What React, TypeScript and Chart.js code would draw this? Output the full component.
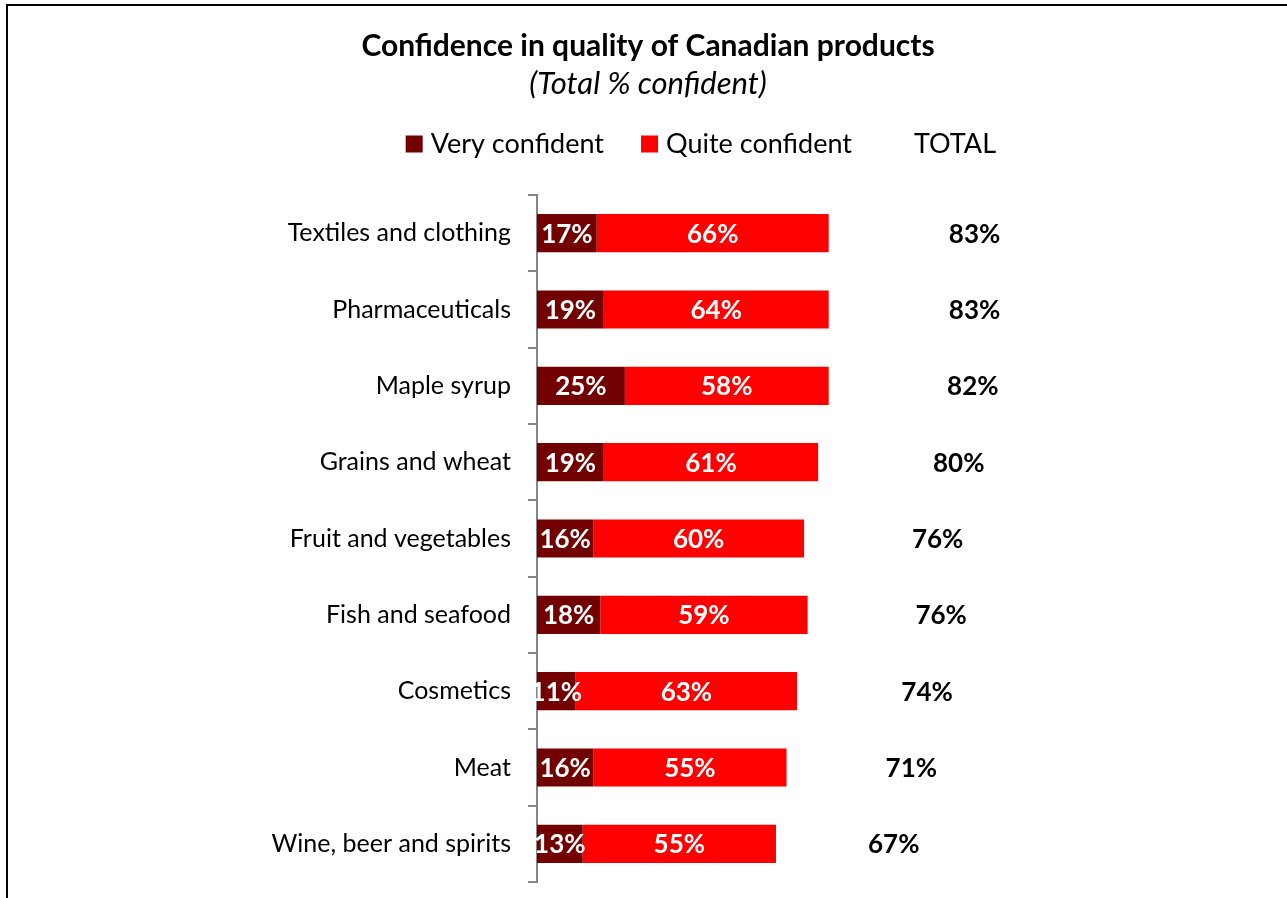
import React, { useEffect, useRef } from "react";
import { Chart, registerables } from "chart.js";

Chart.register(...registerables);

const categories: string[] = [
  "Textiles and clothing",
  "Pharmaceuticals",
  "Maple syrup",
  "Grains and wheat",
  "Fruit and vegetables",
  "Fish and seafood",
  "Cosmetics",
  "Meat",
  "Wine, beer and spirits",
];
const veryConfident: number[] = [17, 19, 25, 19, 16, 18, 11, 16, 13];
const quiteConfident: number[] = [66, 64, 58, 61, 60, 59, 63, 55, 55];
const totalConfident: number[] = [83, 83, 82, 80, 76, 76, 74, 71, 67];

const seriesNames: string[] = ["Very confident", "Quite confident", "TOTAL"];
const titleText = "Confidence in quality of Canadian products";
const subtitleText = "(Total % confident)";

const FONT = "Lato, 'Open Sans', sans-serif";

const valueLabels = {
  id: "valueLabels",
  afterDatasetsDraw(chart: any) {
    const ctx = chart.ctx;
    chart.data.datasets.forEach((ds: any, di: number) => {
      const meta = chart.getDatasetMeta(di);
      meta.data.forEach((el: any, i: number) => {
        const { x, y, base } = el.getProps(["x", "y", "base"], true);
        ctx.save();
        ctx.font = `bold 26px ${FONT}`;
        ctx.fillStyle = ds.labelColor;
        ctx.textAlign = "center";
        ctx.textBaseline = "middle";
        ctx.fillText(`${ds.data[i]}%`, (x + base) / 2, y + 1);
        ctx.restore();
      });
    });
  },
};

export default function App() {
  const ref = useRef<HTMLCanvasElement>(null);
  useEffect(() => {
    const chart = new Chart(ref.current as HTMLCanvasElement, {
      type: "bar",
      data: {
        labels: categories,
        datasets: [
          {
            label: seriesNames[0],
            data: veryConfident,
            backgroundColor: "#720000",
            borderWidth: 0,
            barPercentage: 0.5,
            categoryPercentage: 1,
            labelColor: "#ffffff",
          } as any,
          {
            label: seriesNames[1],
            data: quiteConfident,
            backgroundColor: "#ff0000",
            borderWidth: 0,
            barPercentage: 0.5,
            categoryPercentage: 1,
            labelColor: "#ffffff",
          } as any,
          {
            label: seriesNames[2],
            data: totalConfident,
            backgroundColor: "rgba(0,0,0,0)",
            borderWidth: 0,
            barPercentage: 0.5,
            categoryPercentage: 1,
            labelColor: "#000000",
          } as any,
        ],
      },
      options: {
        indexAxis: "y",
        responsive: false,
        animation: false,
        events: [],
        layout: { padding: { left: 257.5, right: 248.5, top: 0, bottom: 16 } },
        scales: {
          x: {
            stacked: true,
            position: "top",
            min: 0,
            max: 142.7,
            grid: { display: false },
            border: { display: false },
            ticks: { display: false },
            afterFit: (s: any) => {
              s.height = 27.5;
            },
          },
          y: {
            stacked: true,
            position: "left",
            grid: {
              display: true,
              drawOnChartArea: false,
              drawTicks: true,
              tickLength: 9,
              color: "#868686",
              lineWidth: 2,
              offset: true,
            },
            border: { display: true, color: "#868686", width: 2 },
            ticks: {
              padding: 17,
              color: "#000000",
              font: { family: FONT, size: 25 },
            },
            afterFit: (s: any) => {
              s.width = 279.5;
              s.paddingTop = 0;
              s.paddingBottom = 0;
            },
          },
        },
        plugins: {
          tooltip: { enabled: false },
          title: {
            display: true,
            text: titleText,
            color: "#000000",
            font: { family: FONT, size: 30, weight: "bold", lineHeight: 1.2 },
            padding: { top: 28, bottom: 0 },
          },
          subtitle: {
            display: true,
            text: subtitleText,
            color: "#000000",
            font: { family: FONT, size: 31, style: "italic", lineHeight: 0.25 },
            padding: { top: 16.125, bottom: 0.125 },
          },
          legend: {
            display: true,
            position: "top",
            align: "end",
            labels: {
              usePointStyle: true,
              pointStyle: "rect",
              boxWidth: 6,
              boxHeight: 17,
              padding: 42.5,
              color: "#000000",
              font: { family: FONT, size: 27 },
            },
          },
        },
      } as any,
      plugins: [valueLabels],
    });
    return () => chart.destroy();
  }, []);

  return (
    <div
      style={{
        position: "fixed",
        left: 0,
        top: 0,
        width: 1287,
        height: 898,
        overflow: "hidden",
        background: "#ffffff",
      }}
    >
      <div
        style={{
          position: "absolute",
          left: 6,
          top: 4,
          width: 1400,
          height: 1000,
          border: "2px solid #000000",
          boxSizing: "border-box",
        }}
      />
      <canvas
        ref={ref}
        width={1287}
        height={898}
        style={{ position: "absolute", left: 0, top: 0, width: 1287, height: 898 }}
      />
    </div>
  );
}
